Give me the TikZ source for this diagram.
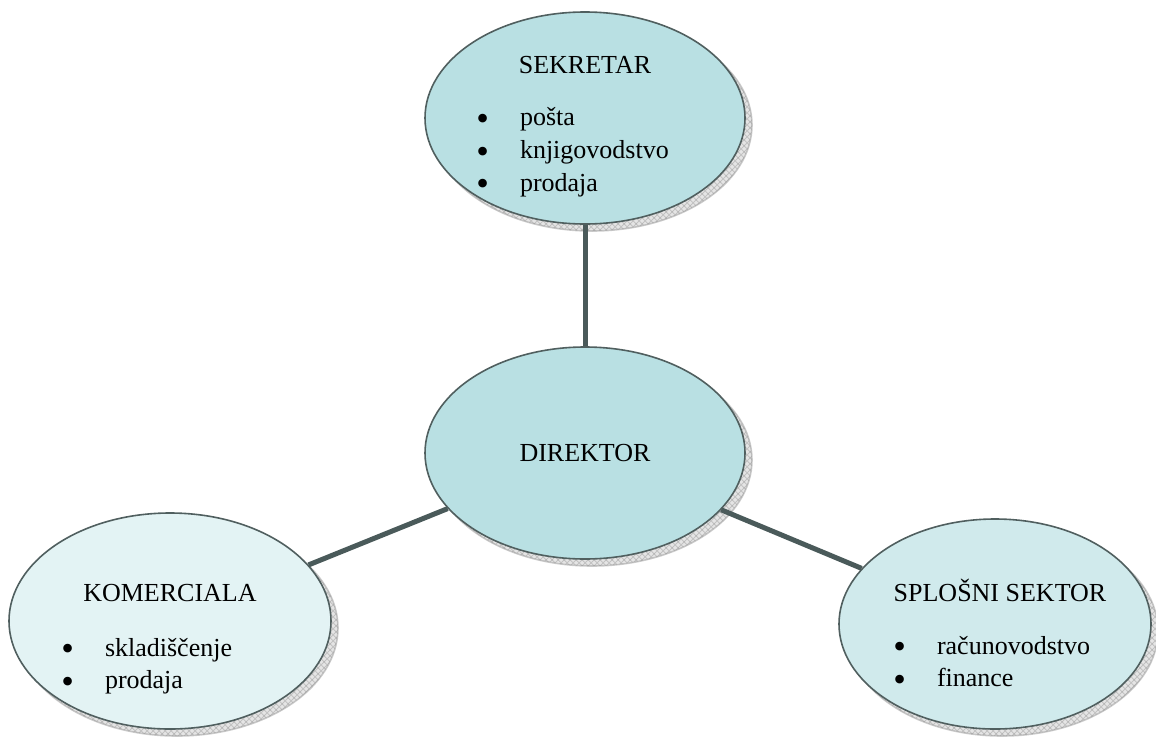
\documentclass[tikz,border=0pt]{standalone}
\usepackage{fontspec}
\setmainfont{Liberation Serif}
\usetikzlibrary{shapes.geometric,shadows,patterns,positioning}
\definecolor{deepfill}{RGB}{185,224,227}
\definecolor{palefill}{RGB}{227,243,244}
\definecolor{midfill}{RGB}{208,234,236}
\definecolor{rimgray}{RGB}{80,95,95}
\definecolor{linkgray}{RGB}{74,90,90}
\newcommand{\bigdot}{\smash{\raisebox{-2.3pt}{\fontsize{18}{16}\selectfont•}}}
\newcommand{\itemlist}[1]{\begin{tabular}{@{}l@{\hspace{15.5pt}}l@{}}#1\end{tabular}}
\begin{document}
\begin{tikzpicture}[x=0.5pt,y=-0.5pt,line join=round,font=\fontsize{13}{16.3}\selectfont,
	unit/.style={ellipse,draw=rimgray,line width=0.8pt,inner sep=0pt,minimum width=160pt,minimum height=106pt,
		drop shadow={shadow xshift=3.5pt,shadow yshift=-3.5pt,fill=gray!40,draw=gray!80,
			postaction={pattern=crosshatch,pattern color=gray!75}}},
	link/.style={draw=linkgray,line width=2.5pt}]
	\useasboundingbox (0,0) rectangle (1156,740);
	% ovals
	\node[unit,fill=deepfill] (sek) at (585,118) {};
	\node[unit,fill=deepfill] (dir) at (585,453) {};
	\node[unit,fill=palefill,minimum width=161pt,minimum height=108pt] (kom) at (170,621) {};
	\node[unit,fill=midfill,minimum width=156pt,minimum height=105pt] (spl) at (995,624) {};
	% links
	\draw[link] (sek) -- (dir);
	\draw[link] (dir) -- (kom);
	\draw[link] (dir) -- (spl);
	% texts
	\node (sektitle) at (585,65) {SEKRETAR};
	\node[anchor=west,inner sep=0pt] (seklist) at (476,152) {\itemlist{\bigdot & pošta\\ \bigdot & knjigovodstvo\\ \bigdot & prodaja}};
	\node (dirtitle) at (585,453) {DIREKTOR};
	\node (komtitle) at (170,593) {KOMERCIALA};
	\node[anchor=west,inner sep=0pt] (komlist) at (61,666) {\itemlist{\bigdot & skladiščenje\\ \bigdot & prodaja}};
	\node (spltitle) at (1000,590) {SPLOŠNI SEKTOR};
	\node[anchor=west,inner sep=0pt] (spllist) at (893,664) {\itemlist{\bigdot & računovodstvo\\ \bigdot & finance}};
\end{tikzpicture}
\end{document}
